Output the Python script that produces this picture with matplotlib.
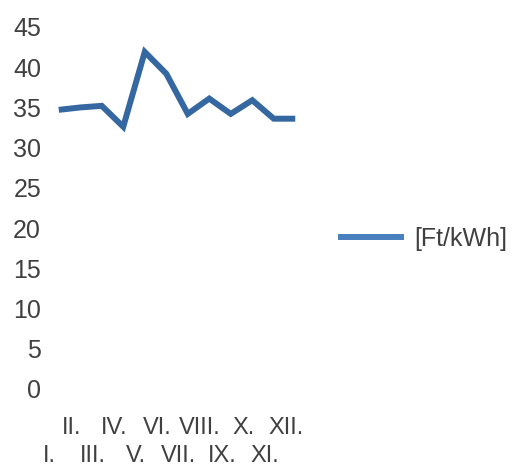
import matplotlib.pyplot as plt
from matplotlib.lines import Line2D
import matplotlib.transforms as mtransforms

plt.rcParams['font.family'] = ['Liberation Sans', 'DejaVu Sans']

months = ['I.', 'II.', 'III.', 'IV.', 'V.', 'VI.', 'VII.', 'VIII.', 'IX.', 'X.', 'XI.', 'XII.']
price = [34.7, 35.0, 35.2, 32.6, 41.9, 39.2, 34.2, 36.1, 34.2, 35.9, 33.6, 33.6]
yticks = [0, 5, 10, 15, 20, 25, 30, 35, 40, 45]

line_col = '#3568a0'
txt_col = '#404040'
fs = 18

fig = plt.figure(figsize=(5.2, 4.68), dpi=100)
ax = fig.add_axes([48 / 520, 79 / 468, 258 / 520, 362 / 468])

x = list(range(len(months)))
ax.plot(x, price, color=line_col, lw=4.3, solid_joinstyle='miter', solid_capstyle='butt')

ax.set_xlim(-0.5, len(months) - 0.5)
ax.set_ylim(0, 45)
ax.set_yticks(yticks)
ax.set_yticklabels([str(v) for v in yticks], fontsize=fs, color=txt_col)
ax.tick_params(axis='y', length=0, pad=5)

# month labels staggered on two rows
ax.set_xticks([])
shift = mtransforms.ScaledTranslation(-9 / 100, 0, fig.dpi_scale_trans)
trans = ax.get_xaxis_transform() + shift
for i, m in enumerate(months):
    yy = -0.155 if i % 2 == 0 else -0.078
    ax.text(i, yy, m, transform=trans, ha='center', va='top', fontsize=17, color=txt_col)

for s in ax.spines.values():
    s.set_visible(False)

handle = Line2D([], [], color='#4a7fbd', lw=4.3)
fig.legend([handle], ['[Ft/kWh]'], loc='center left', bbox_to_anchor=(333 / 520, 1 - 239 / 468),
           frameon=False, fontsize=fs, handlelength=2.4, handletextpad=0.55, labelcolor=txt_col,
           borderaxespad=0, borderpad=0.3)

fig.savefig('out.png', dpi=100, facecolor='white')
